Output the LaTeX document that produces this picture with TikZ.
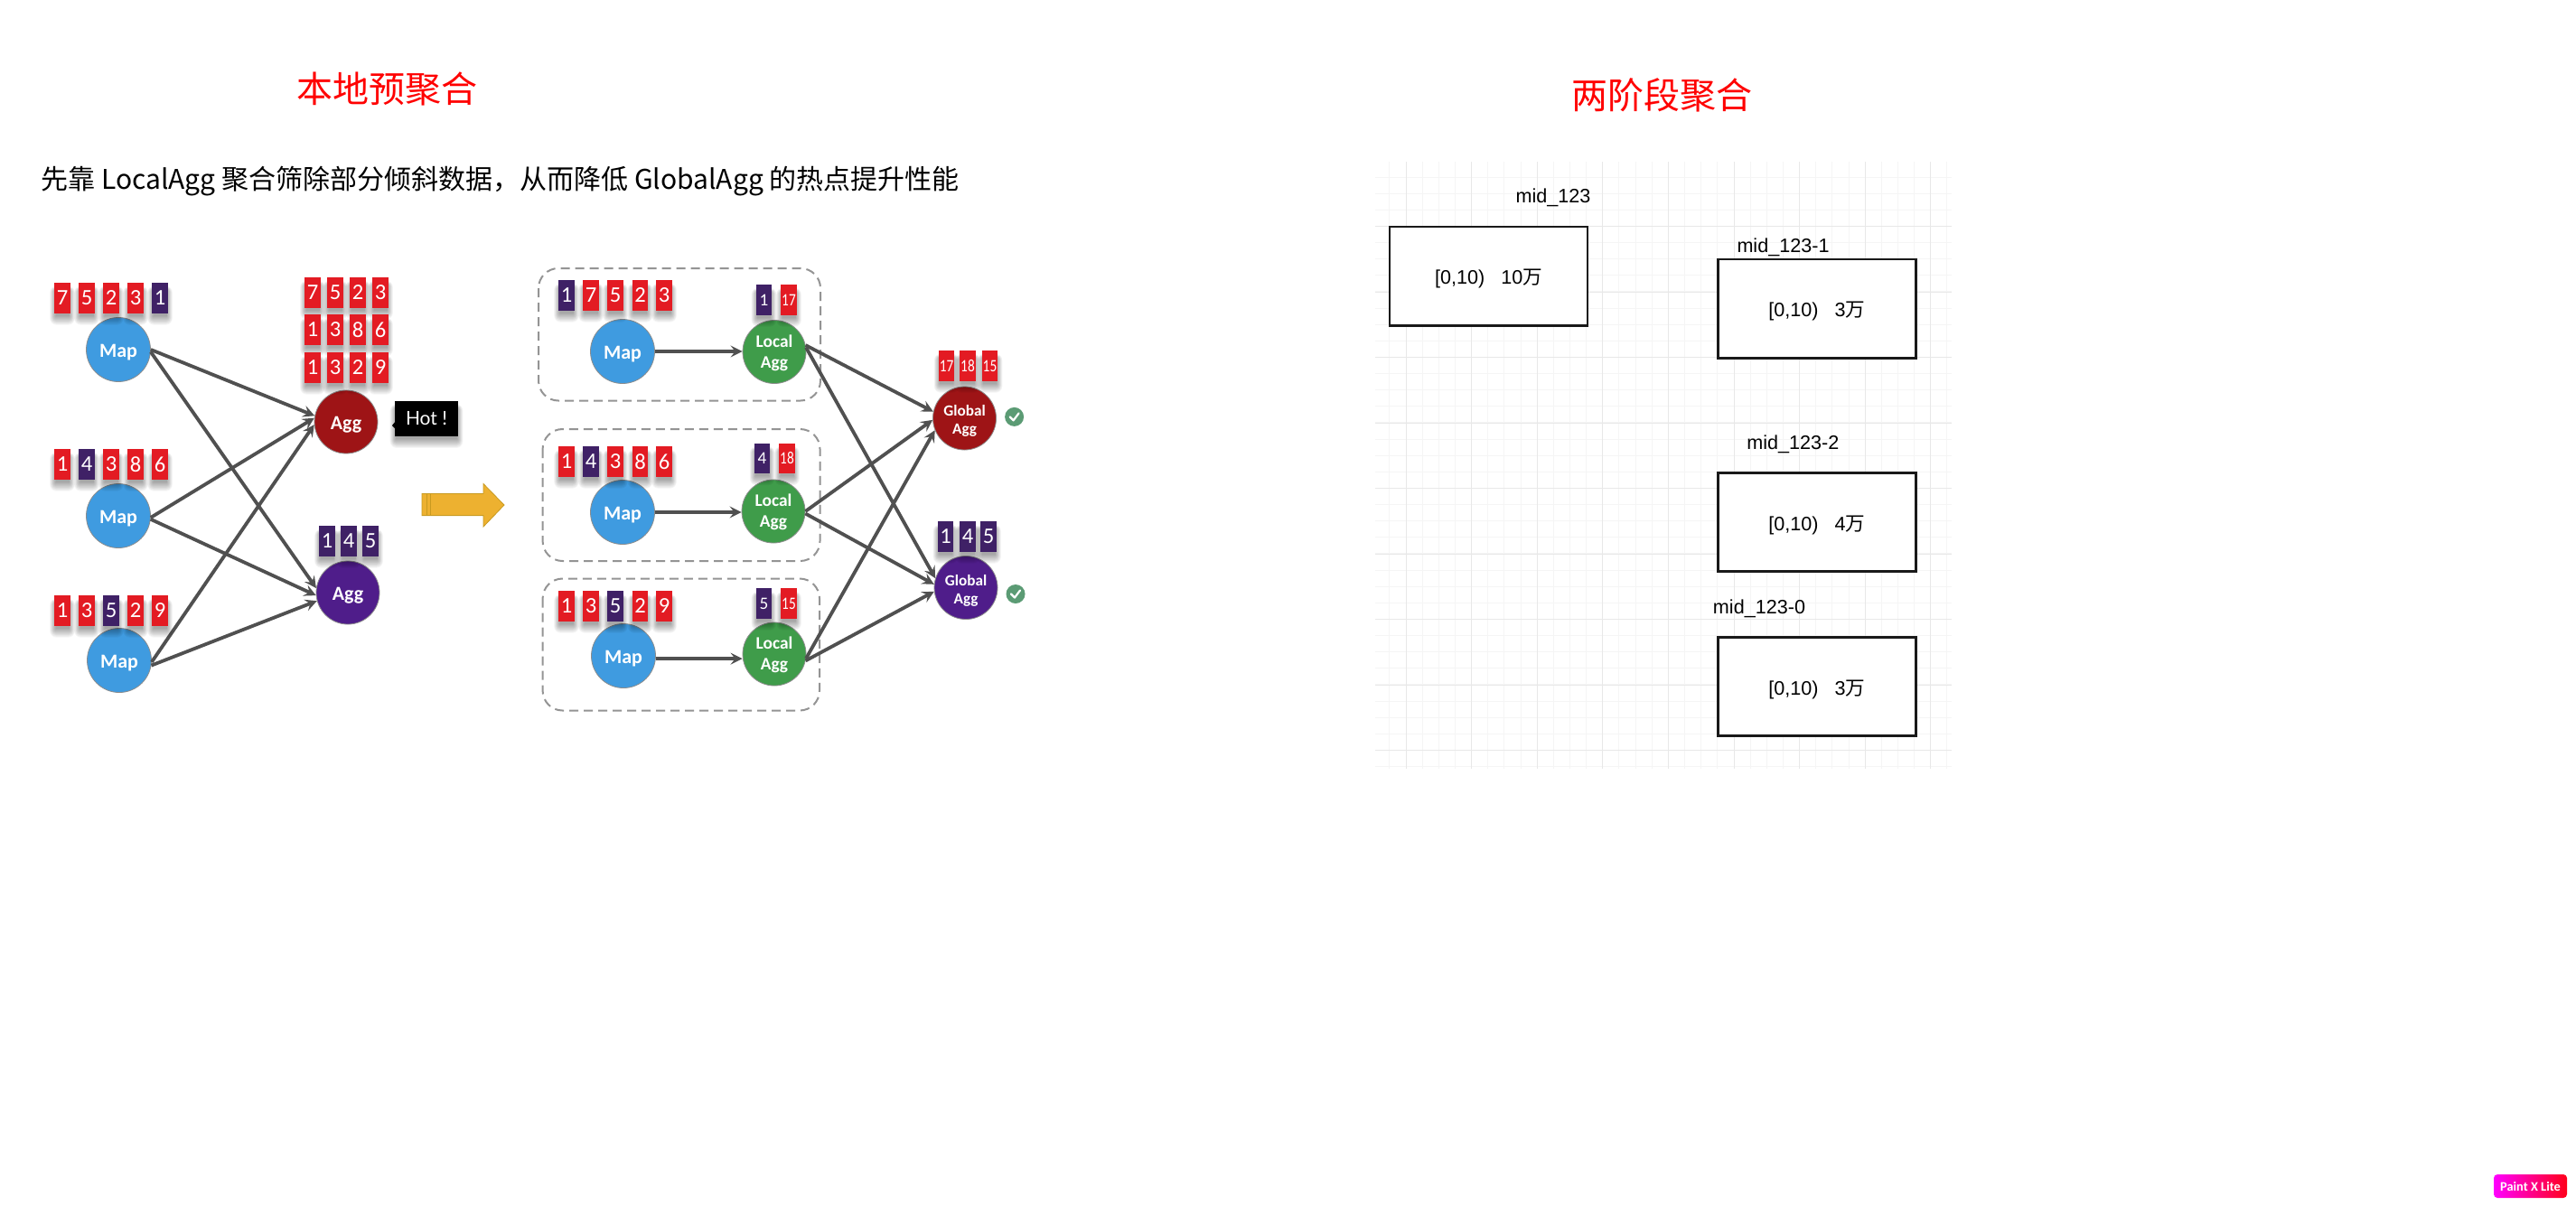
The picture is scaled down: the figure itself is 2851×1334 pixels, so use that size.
\documentclass[tikz,border=0pt]{standalone}
\usepackage{fontspec}
\usepackage{graphicx}
\usetikzlibrary{arrows.meta}
\setmainfont{Liberation Sans}
\newfontfamily\cjk{Noto Sans CJK SC}
\newfontfamily\cali{Carlito}
\newfontfamily\latoo{Lato}
\definecolor{chipred}{HTML}{E31B23}
\definecolor{chippur}{HTML}{3F2166}
\definecolor{mapblue}{HTML}{3F9BE0}
\definecolor{locgreen}{HTML}{3F9C4A}
\definecolor{aggred}{HTML}{9E1416}
\definecolor{aggpur}{HTML}{4F1D8A}
\definecolor{flowgray}{HTML}{505050}
\definecolor{bigarrow}{HTML}{EDB130}
\definecolor{bigedge}{HTML}{C89A20}
\definecolor{okgreen}{HTML}{5B9B74}
\newcount\chipno
\tikzset{
  x=0.5pt,y=-0.5pt,
  chipbox/.style={rectangle,minimum width=8.6pt,minimum height=16.8pt,inner sep=0pt,text=white,font=\cali\fontsize{12.3}{14}\selectfont},
  smallchip/.style={chipbox,font=\cali\fontsize{9.6}{11}\selectfont},
  ball/.style={circle,inner sep=0pt,minimum size=35pt,text=white,draw=black!45,line width=.4pt},
  mapball/.style={ball,minimum size=35.5pt,fill=mapblue,font=\cali\bfseries\fontsize{11}{12}\selectfont},
  aggball/.style={ball,font=\cali\bfseries\fontsize{11}{12}\selectfont},
  localball/.style={ball,fill=locgreen,font=\cali\bfseries\fontsize{9.7}{11.5}\selectfont},
  globalball/.style={ball,font=\cali\bfseries\fontsize{8.6}{10}\selectfont},
  flow/.style={draw=flowgray,line width=1.9pt,-{Stealth[length=6.5pt,width=6.5pt,inset=2.5pt]}},
  groupbox/.style={draw=black!42,line width=1pt,dash pattern=on 5pt off 3pt,rounded corners=11pt},
  minorgrid/.style={draw=black!4,line width=.5pt},
  majorgrid/.style={draw=black!9,line width=.5pt},
  partbox/.style={rectangle,draw=black!90,fill=white,line width=1.4pt,minimum width=109.5pt,minimum height=54.6pt,inner sep=0pt,font=\fontsize{10.8}{13}\selectfont},
  midlabel/.style={inner sep=0pt,font=\fontsize{10.8}{13}\selectfont},
  titletext/.style={inner sep=0pt,text=red,font=\cjk\fontsize{20}{24}\selectfont},
  okdot/.style={circle,fill=okgreen,inner sep=0pt,minimum size=10.5pt},
  okmark/.style={draw=white,line width=1.1pt,line cap=round,line join=round},
}
\newcommand{\softshadow}[4]{%
  \foreach \e in {0,1,...,9}{%
    \fill[black,opacity=.04,rounded corners={\e*0.4pt}]
      ({#1-#3/2-\e*.7+1},{#2-#4/2+8-\e*.5}) rectangle ({#1+#3/2+\e*.7-1},{#2+#4/2+3+\e*1.1});
  }}
\newcommand{\chip}[5][chipbox]{%
  \softshadow{#3}{#4}{17}{33.5}%
  \global\advance\chipno by 1
  \node[#1,fill=#2] (chip\the\chipno) at (#3,#4) {#5};}
\newcommand{\squeeze}[1]{\scalebox{.8}[1]{#1}}
\newcommand{\boxtext}[1]{\raisebox{0pt}[\dimexpr\height+3pt\relax][\depth]{#1}}
\newcommand{\lift}[2][3.6pt]{\raisebox{0pt}[\dimexpr\height+#1\relax][\depth]{\begin{tabular}{@{}c@{}}#2\end{tabular}}}
\begin{document}
\begin{tikzpicture}
\useasboundingbox (0,0) rectangle (2851,1334);
\fill[white] (0,0) rectangle (2851,1334);

% titles
\node[titletext] (t1) at (428,98) {本地预聚合};
\node[titletext] (t2) at (1839,105) {两阶段聚合};
\node[inner sep=0pt,anchor=west,font=\cjk\fontsize{15}{18}\selectfont] (sub) at (45,201)
  {先靠 LocalAgg 聚合筛除部分倾斜数据，从而降低 GlobalAgg 的热点提升性能};

% ---------- left panel ----------
\node[mapball] (m1) at (131,387) {\lift{Map}};
\node[mapball] (m2) at (131,571) {\lift{Map}};
\node[mapball] (m3) at (132,731) {\lift{Map}};
\node[aggball,fill=aggred] (ar) at (383,467) {\lift{Agg}};
\node[aggball,fill=aggpur] (ap) at (385,656) {\lift{Agg}};
\draw[flow] (m1.0) -- (ar.169);
\draw[flow] (m1.356) -- (ap.172);
\draw[flow] (m2.357) -- (ar.173);
\draw[flow] (m2.354) -- (ap.185);
\draw[flow] (m3.357) -- (ar.185);
\draw[flow] (m3.351) -- (ap.195);

\chip{chipred}{69}{330}{7}\chip{chipred}{96}{330}{5}\chip{chipred}{123}{330}{2}\chip{chipred}{150}{330}{3}\chip{chippur}{177}{330}{1}
\chip{chipred}{69}{514}{1}\chip{chippur}{96}{514}{4}\chip{chipred}{123}{514}{3}\chip{chipred}{150}{514}{8}\chip{chipred}{177}{514}{6}
\chip{chipred}{69}{676}{1}\chip{chipred}{96}{676}{3}\chip{chippur}{123}{676}{5}\chip{chipred}{150}{676}{2}\chip{chipred}{177}{676}{9}

\chip{chipred}{346}{324}{7}\chip{chipred}{371}{324}{5}\chip{chipred}{396}{324}{2}\chip{chipred}{421}{324}{3}
\chip{chipred}{346}{365}{1}\chip{chipred}{371}{365}{3}\chip{chipred}{396}{365}{8}\chip{chipred}{421}{365}{6}
\chip{chipred}{346}{407}{1}\chip{chipred}{371}{407}{3}\chip{chipred}{396}{407}{2}\chip{chipred}{421}{407}{9}
\chip{chippur}{362}{599}{1}\chip{chippur}{386}{599}{4}\chip{chippur}{410}{599}{5}

% hot tag
\softshadow{472}{463.5}{70}{39}
\fill[black] (438,466) -- (434,471) -- (438,475) -- cycle;
\node[rectangle,fill=black,text=white,inner sep=0pt,minimum width=35pt,minimum height=19.5pt,font=\latoo\fontsize{10.5}{12}\selectfont] (hot) at (472,463.5) {Hot !};

% big arrow
\draw[fill=bigarrow,draw=bigedge,line width=.4pt]
  (467,546.5) -- (535,546.5) -- (535,535.5) -- (558,559) -- (535,583) -- (535,570.6) -- (467,570.6) -- cycle;
\draw[bigedge,line width=.4pt] (472,546.5) -- (472,570.6) (476,546.5) -- (476,570.6);

% ---------- middle panel ----------
\draw[groupbox] (596,297) rectangle (908,443.5);
\draw[groupbox] (600.6,475) rectangle (907.5,621);
\draw[groupbox] (600.6,640.5) rectangle (907,786.5);

\node[mapball] (n1) at (689,389) {\lift{Map}};
\node[mapball] (n2) at (689,567) {\lift{Map}};
\node[mapball] (n3) at (690,726) {\lift{Map}};
\node[localball] (l1) at (857,389.5) {\lift[1.8pt]{Local\\Agg}};
\node[localball] (l2) at (856,566) {\lift[1.8pt]{Local\\Agg}};
\node[localball] (l3) at (857,724) {\lift[1.8pt]{Local\\Agg}};
\node[globalball,fill=aggred] (gr) at (1067.5,463) {\lift{Global\\Agg}};
\node[globalball,fill=aggpur] (gp) at (1069,650.5) {\lift{Global\\Agg}};

\draw[flow] (n1.east) -- (n1.east -| l1.west);
\draw[flow] (n2.east) -- (n2.east -| l2.west);
\draw[flow] (n3.355) -- (n3.355 -| l3.west);
\draw[flow] (l1.12) -- (gr.168);
\draw[flow] (l1.8) -- (gp.163);
\draw[flow] (l2.0) -- (gr.183);
\draw[flow] (l2.356) -- (gp.174);
\draw[flow] (l3.352) -- (gr.202);
\draw[flow] (l3.348) -- (gp.187);

\chip{chippur}{627}{327}{1}\chip{chipred}{654}{327}{7}\chip{chipred}{681}{327}{5}\chip{chipred}{708.5}{327}{2}\chip{chipred}{735}{327}{3}
\chip{chipred}{627}{511}{1}\chip{chippur}{654}{511}{4}\chip{chipred}{681}{511}{3}\chip{chipred}{708.5}{511}{8}\chip{chipred}{735}{511}{6}
\chip{chipred}{627}{671}{1}\chip{chipred}{654}{671}{3}\chip{chippur}{681}{671}{5}\chip{chipred}{708.5}{671}{2}\chip{chipred}{735}{671}{9}

\chip[smallchip]{chippur}{845.5}{332}{1}\chip[smallchip]{chipred}{873}{332}{\squeeze{17}}
\chip[smallchip]{chippur}{843.6}{507.5}{4}\chip[smallchip]{chipred}{871}{507.5}{\squeeze{18}}
\chip[smallchip]{chippur}{845.5}{668}{5}\chip[smallchip]{chipred}{873}{668}{\squeeze{15}}

\chip[smallchip]{chipred}{1047.6}{405}{\squeeze{17}}\chip[smallchip]{chipred}{1071}{405}{\squeeze{18}}\chip[smallchip]{chipred}{1095.5}{405}{\squeeze{15}}
\chip{chippur}{1046.5}{594}{1}\chip{chippur}{1071}{594}{4}\chip{chippur}{1094}{594}{5}

\node[okdot] (ok1) at (1122.6,461.4) {};
\node[okdot] (ok2) at (1124,657.5) {};
\draw[okmark] ([shift={(-5,0)}]ok1.center) -- ([shift={(-1,4)}]ok1.center) -- ([shift={(5,-4)}]ok1.center);
\draw[okmark] ([shift={(-5,0)}]ok2.center) -- ([shift={(-1,4)}]ok2.center) -- ([shift={(5,-4)}]ok2.center);

% ---------- right panel ----------
\foreach \i in {0,...,34}{\draw[minorgrid] ({round(1537.4+18.15*\i)+.5},179) -- ({round(1537.4+18.15*\i)+.5},851);}
\foreach \i in {0,...,36}{\draw[minorgrid] (1522,{round(195.6+18.125*\i)+.5}) -- (2160,{round(195.6+18.125*\i)+.5});}
\foreach \i in {0,...,8}{\draw[majorgrid] ({round(1555.5+72.6*\i)+.5},179) -- ({round(1555.5+72.6*\i)+.5},851);}
\foreach \i in {0,...,8}{\draw[majorgrid] (1522,{round(250+72.5*\i)+.5}) -- (2160,{round(250+72.5*\i)+.5});}

\node[partbox] (p0) at (1647.5,305.5) {\boxtext{[0,10)\hspace{9pt}10{\cjk 万}}};
\node[partbox] (p1) at (2010.7,341.5) {\boxtext{[0,10)\hspace{9pt}3{\cjk 万}}};
\node[partbox] (p2) at (2010.7,578) {\boxtext{[0,10)\hspace{9pt}4{\cjk 万}}};
\node[partbox] (p3) at (2010.7,760) {\boxtext{[0,10)\hspace{9pt}3{\cjk 万}}};
\node[midlabel] (l0) at (1719,218.5) {mid\_123};
\node[midlabel] (la) at (1973.5,273.5) {mid\_123-1};
\node[midlabel] (lb) at (1984.4,491.5) {mid\_123-2};
\node[midlabel] (lc) at (1947,673.5) {mid\_123-0};

% badge
\node[rectangle,rounded corners=2pt,left color=magenta!100!red,right color=red!90!magenta,text=white,inner sep=0pt,minimum width=40.5pt,minimum height=13pt,font=\cali\bfseries\fontsize{7.2}{8}\selectfont] (badge) at (2800.5,1313) {Paint X Lite};
\end{tikzpicture}
\end{document}
